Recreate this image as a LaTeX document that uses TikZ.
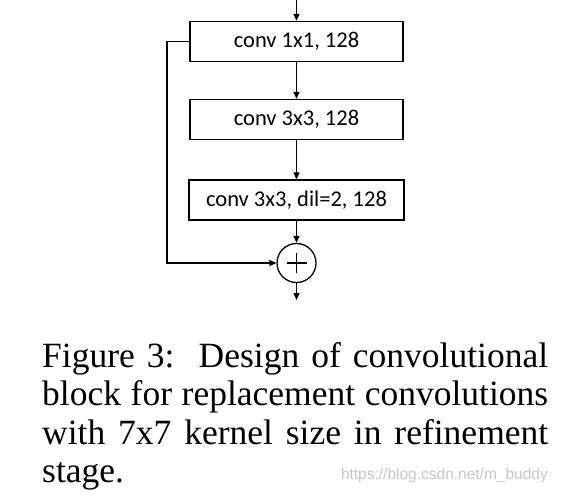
\documentclass[tikz,border=0pt]{standalone}
\usepackage{fontspec}
\setmainfont{Liberation Serif}
\newfontfamily\boxfont{Carlito}
\newfontfamily\wmfont{Liberation Sans}
\usetikzlibrary{arrows.meta}
\begin{document}
\begin{tikzpicture}[x=1pt,y=-1pt,
  convbox/.style={draw,line width=1.3pt,minimum height=40pt,inner sep=0pt,font=\boxfont\fontsize{22.5}{26}\selectfont},
  conn/.style={line width=1.3pt,-{Triangle[length=7pt,width=6pt]}},
  capline/.style={anchor=base west,inner sep=0pt,font=\fontsize{35.5}{38.5}\selectfont}]
\useasboundingbox (0,0) rectangle (572,496);
\node[convbox,minimum width=213pt] (b1) at (296.5,41.5) {conv 1x1, 128};
\node[convbox,minimum width=213pt] (b2) at (296.5,119.5) {conv 3x3, 128};
\node[convbox,minimum width=215pt] (b3) at (296.5,200) {conv 3x3, dil=2, 128};
\node[draw,circle,line width=1.3pt,minimum size=39pt,inner sep=0pt] (add) at (296.5,263) {};
\draw[line width=1.8pt] (add.center) +(-10,0) -- +(10,0) (add.center) +(0,-10) -- +(0,10);
\coordinate (in) at (296.5,0);
\coordinate (out) at (296.5,300);
\coordinate (s1) at (167,41.5);
\coordinate (s2) at (167,263);
\draw[conn] (in) -- (b1.north);
\draw[conn] (b1.south) -- (b2.north);
\draw[conn] (b2.south) -- (b3.north);
\draw[conn] (b3.south) -- (add.north);
\draw[conn] (add.south) -- (out);
\draw[conn] (b1.west) -- (s1) -- (s2) -- (add.west);
\node[capline] (c1) at (42,367) {\makebox[506pt][s]{Figure 3:\ \ Design of convolutional}};
\node[capline] (c2) at (42,405.5) {\makebox[506pt][s]{block for replacement convolutions}};
\node[capline] (c3) at (42,444) {\makebox[506pt][s]{with 7x7 kernel size in refinement}};
\node[capline] (c4) at (42,482.5) {stage.};
\node[anchor=base east,inner sep=0pt,text=black!22,font=\wmfont\fontsize{15.5}{15.5}\selectfont] (wm) at (548,479) {https://blog.csdn.net/m\_buddy};
\end{tikzpicture}
\end{document}
